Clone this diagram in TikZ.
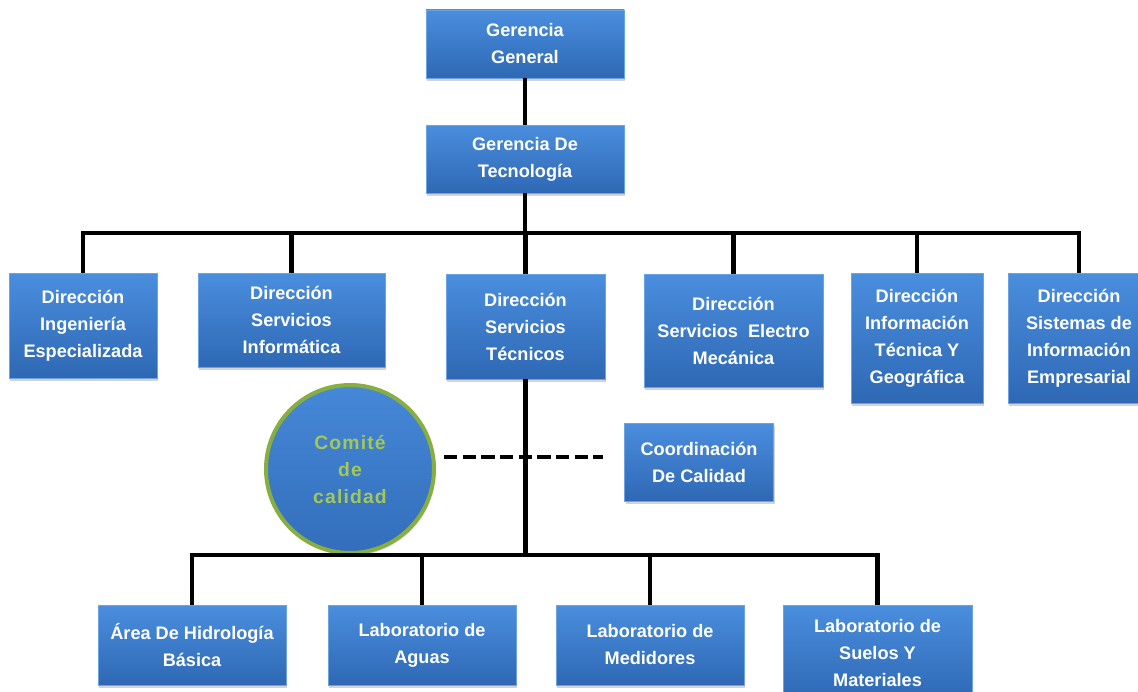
\documentclass[tikz,border=0pt]{standalone}
\usepackage{fontspec}
\setmainfont{Liberation Sans}
\usetikzlibrary{shadows}
\definecolor{azulA}{RGB}{74,142,222}
\definecolor{azulB}{RGB}{46,104,180}
\definecolor{borde}{RGB}{108,163,228}
\definecolor{verde}{RGB}{136,174,64}
\definecolor{verdeT}{RGB}{164,200,86}
\begin{document}
\begin{tikzpicture}[x=0.75pt,y=-0.75pt,
  caja/.style={rectangle, draw=borde, line width=0.6pt, top color=azulA, bottom color=azulB,
    text=white, align=center, inner sep=0pt, font=\fontsize{13.6}{20.25}\selectfont\bfseries,
    drop shadow={opacity=0.35, shadow xshift=1pt, shadow yshift=-2pt}},
  comite/.style={circle, draw=verde, line width=3pt, top color=azulA!85!azulB, bottom color=azulB!85!azulA,
    text=verdeT, align=center, inner sep=0pt, minimum size=126pt,
    font=\fontsize{14.5}{20.25}\selectfont\bfseries\addfontfeatures{LetterSpace=6},
    drop shadow={opacity=0.3, shadow xshift=1pt, shadow yshift=-2pt}},
  linea/.style={line width=3.2pt, black}]

\useasboundingbox (0,0) rectangle (1138,692);

\node[caja, minimum width=148.5pt, minimum height=51pt] (gg) at (525,44) {Gerencia\\General};
\node[caja, minimum width=148.5pt, minimum height=51pt] (gt) at (525,159) {Gerencia De\\Tecnología};

\node[caja, minimum width=111pt, minimum height=78.75pt] (ing) at (83,325.5) {Dirección\\Ingeniería\\Especializada};
\node[caja, minimum width=140.25pt, minimum height=70.5pt] (inf) at (291.5,320) {Dirección\\Servicios\\Informática};
\node[caja, minimum width=119.25pt, minimum height=78.75pt] (tecn) at (525.5,326.5) {Dirección\\Servicios\\Técnicos};
\node[caja, minimum width=134.25pt, minimum height=84.75pt] (elec) at (733.5,330.5) {Dirección\\Servicios\ \ Electro\\Mecánica};
\node[caja, minimum width=99pt, minimum height=97.5pt] (geo) at (917,338) {Dirección\\Información\\Técnica Y\\Geográfica};
\node[caja, minimum width=106.5pt, minimum height=97.5pt] (emp) at (1079,338) {Dirección\\Sistemas de\\Información\\Empresarial};

\node[comite] (com) at (350,469) {Comité\\de\\calidad};
\node[caja, minimum width=111.75pt, minimum height=58.5pt] (coord) at (699,462) {Coordinación\\De Calidad};

\node[caja, minimum width=141pt, minimum height=60pt] (hid) at (192,645) {Área De Hidrología\\Básica};
\node[caja, minimum width=141pt, minimum height=60pt] (agu) at (422,645) {Laboratorio de\\Aguas};
\node[caja, minimum width=141pt, minimum height=60pt] (med) at (650,645) {Laboratorio de\\Medidores};
\node[caja, minimum width=141.75pt, minimum height=72pt] (sue) at (877.5,653) {Laboratorio de\\Suelos Y\\Materiales};

\coordinate (bus) at (525,233);
\coordinate (bus2) at (525,555);
\coordinate (dA) at (444,457);
\coordinate (dB) at (603,457);

\draw[linea] (gg) -- (gt);
\foreach \n in {ing,inf,tecn,elec,geo,emp} \draw[linea] (gt.south) |- (bus -| \n) -- (\n.north);
\foreach \n in {hid,agu,med,sue} \draw[linea] (tecn.south) |- (bus2 -| \n) -- (\n.north);
\draw[linea, dash pattern=on 10pt off 4pt] (dA) -- (dB);

\end{tikzpicture}
\end{document}
